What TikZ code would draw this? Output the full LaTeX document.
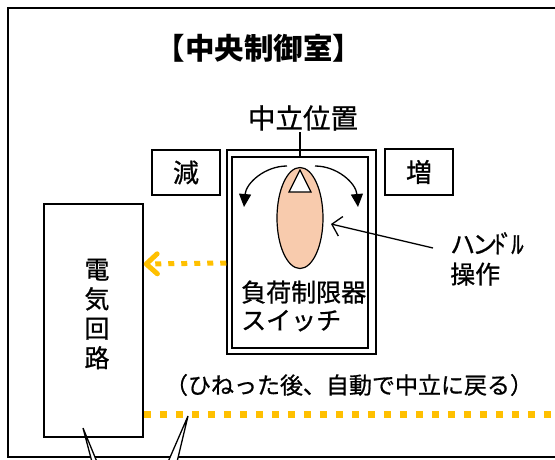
\documentclass[tikz,border=0pt]{standalone}
\usepackage{fontspec}
\newfontfamily\jp{Noto Sans CJK JP}[RawFeature={embolden=0.8}]
\newfontfamily\jpb{Noto Sans CJK JP}
\usetikzlibrary{arrows.meta,shapes.geometric}
\definecolor{ylw}{RGB}{255,192,0}
\definecolor{handlefill}{RGB}{248,203,173}
\tikzset{
  box/.style={draw, line width=1.5pt, inner sep=0pt, rectangle},
  jtext/.style={font=\jp\fontsize{#1}{#1}\selectfont, inner sep=1pt},
  blk/.style={line width=1.3pt},
  ydash/.style={draw=ylw, line width=#1},
}
\begin{document}
\begin{tikzpicture}[x=1pt,y=-1pt]
\useasboundingbox (0,0) rectangle (555,459);
\begin{scope}
\clip (0,0) rectangle (555,459);
% outer frame
\draw[line width=1.8pt] (8,8) rectangle (640,457);

% title
\node[font=\jpb\bfseries\fontsize{29.5}{32}\selectfont] (title) at (259,48) {【中央制御室】};

% neutral position label
\node[jtext=27.5] (neutral) at (303,118) {中立位置};

% switch boxes
\node[box, minimum width=149pt, minimum height=204pt] (outer) at (301.5,252) {};
\node[box, minimum width=136pt, minimum height=191pt] (inner) at (300,252.5) {};
\draw[blk] (inner.north) -- (inner.north |- neutral.south);

% decrease / increase
\node[box, minimum width=68pt, minimum height=45pt, font=\jp\fontsize{26}{26}\selectfont] (dec) at (186,172.5) {減};
\node[box, minimum width=68pt, minimum height=46pt, font=\jp\fontsize{26}{26}\selectfont] (inc) at (419,172) {増};

% handle
\node[ellipse, draw, line width=1.2pt, fill=handlefill, minimum width=46pt, minimum height=101pt, inner sep=0pt] (ell) at (300,218) {};
\draw[line width=1.2pt, fill=white] (300,170) -- (289,192) -- (311,192) -- cycle;

% rotation arcs
\draw[blk, -{Triangle[length=13pt,width=12pt]}] (287,166) .. controls (265,166) and (246,183) .. (244,207);
\draw[blk, -{Triangle[length=13pt,width=12pt]}] (315,166) .. controls (337,166) and (356,183) .. (358,207);

% switch label
\node[anchor=west, align=left, font=\jp\fontsize{25}{28}\selectfont, inner sep=1pt] (swlabel) at (240,306) {負荷制限器\\スイッチ};

% handle operation label
\node[anchor=north west, align=left, font=\jp\fontsize{25}{30}\selectfont, inner sep=1pt] (hlabel) at (449,231) {ハ\kern-3ptン\kern-4ptﾄ\kern-5ptﾞ\kern-2ptﾙ\\操作};
\coordinate (hstart) at (433,248);
\coordinate (htip) at (331,224);
\draw[blk, -{Straight Barb[length=9pt,width=20pt]}] (hstart) -- (htip);

% electric circuit box
\node[box, minimum width=99pt, minimum height=233pt] (circ) at (93.5,320.5) {};
\node[align=center, font=\jp\fontsize{25}{29.5}\selectfont, inner sep=0pt] (circtext) at (97,314) {電\\気\\回\\路};

% yellow dotted arrow
\draw[ydash=5pt, dash pattern=on 6pt off 7pt, -{Straight Barb[length=11pt,width=20pt,round]}] (outer.west |- 0,263) -- (circ.east |- 0,264);

% note
\node[jtext=23] (note) at (349,385) {（ひねった後、自動で中立に戻る）};

% bottom yellow dotted line
\coordinate (lineend) at (570,414);
\draw[ydash=7pt, dash pattern=on 7pt off 9pt] (circ.east |- 0,414) -- (lineend);

% callout tails
\fill[white] (92,462) -- (83,428) -- (97,462) -- cycle;
\draw[line width=1.3pt] (92,462) -- (83,428) -- (97,462);
\fill[white] (168,462) -- (188,416) -- (177,462) -- cycle;
\draw[line width=1.3pt] (168,462) -- (188,416) -- (177,462);
\end{scope}
\end{tikzpicture}
\end{document}
